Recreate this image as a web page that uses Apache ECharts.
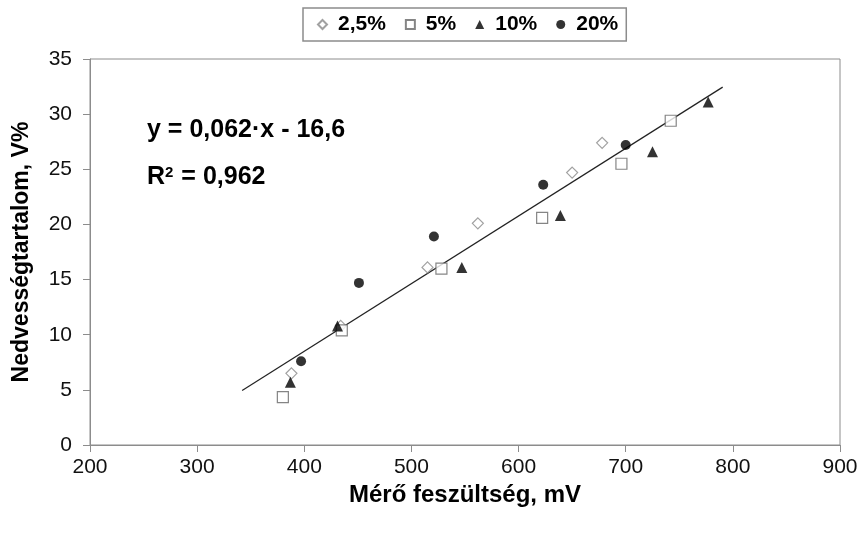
<!DOCTYPE html>
<html>
<head>
<meta charset="utf-8">
<script src="https://cdn.jsdelivr.net/npm/echarts@6/dist/echarts.min.js"></script>
<style>
  html, body { margin: 0; padding: 0; background: #fff; }
  #chart { width: 862px; height: 535px; }
</style>
</head>
<body>
<div id="chart"></div>
<script>
// mért pontok [feszültség mV, nedvesség V%] koncentrációnként
const s25 = [[388, 6.5], [434, 10.8], [515, 16.1], [562, 20.1], [650, 24.7], [678, 27.4]];
const s5 = [[380, 4.35], [435, 10.4], [528, 16.0], [622, 20.6], [696, 25.5], [742, 29.4]];
const s10 = [[387, 5.7], [431, 10.8], [547, 16.1], [639, 20.8], [725, 26.6], [777, 31.1]];
const s20 = [[397, 7.6], [451, 14.7], [521, 18.9], [623, 23.6], [700, 27.2]];
// illesztett egyenes végpontjai
const trend = [[342, 4.95], [790.5, 32.45]];
const seriesNames = ['2,5%', '5%', '10%', '20%'];

const font = 'Liberation Sans, Arial, sans-serif';
const chart = echarts.init(document.getElementById('chart'));

chart.setOption({
  animation: false,
  textStyle: { fontFamily: font },
  grid: {
    left: 90, right: 22, top: 59, bottom: 90,
    show: true, borderColor: '#8c8c8c', borderWidth: 1
  },
  legend: {
    data: seriesNames,
    left: 303, top: 8,
    borderColor: '#8c8c8c', borderWidth: 1.5,
    padding: [6, 8, 6, 14],
    itemGap: 19, itemWidth: 9, itemHeight: 9,
    textStyle: {
      fontSize: 21, fontWeight: 'bold', color: '#000', fontFamily: font,
      padding: [0, 0, 0, 6]
    }
  },
  xAxis: {
    type: 'value', min: 200, max: 900, interval: 100,
    name: 'Mérő feszültség, mV', nameLocation: 'middle', nameGap: 38,
    nameTextStyle: { fontSize: 24, fontWeight: 'bold', color: '#000' },
    axisLine: { show: true, lineStyle: { color: '#8c8c8c' } },
    axisTick: { show: true, length: 7, lineStyle: { color: '#8c8c8c' } },
    axisLabel: { fontSize: 21, color: '#111', margin: 12 },
    splitLine: { show: false }
  },
  yAxis: {
    type: 'value', min: 0, max: 35, interval: 5,
    name: 'Nedvességtartalom, V%', nameLocation: 'middle', nameGap: 57,
    nameTextStyle: { fontSize: 23, fontWeight: 'bold', color: '#000' },
    axisLine: { show: true, lineStyle: { color: '#8c8c8c' } },
    axisTick: { show: true, length: 7, lineStyle: { color: '#8c8c8c' } },
    axisLabel: { fontSize: 21, color: '#111', margin: 18 },
    splitLine: { show: false }
  },
  graphic: [
    {
      type: 'text', left: 147, top: 118,
      style: { text: 'y = 0,062·x - 16,6', font: 'bold 25px ' + font, fill: '#000' }
    },
    {
      type: 'text', left: 147, top: 165,
      style: {
        text: '{b|R}{s|2}{b| = 0,962}',
        rich: {
          b: { font: 'bold 25px ' + font, fill: '#000', verticalAlign: 'bottom' },
          s: { font: 'bold 15px ' + font, fill: '#000', verticalAlign: 'top', padding: [0, 1, 10, 0] }
        }
      }
    }
  ],
  series: [
    {
      name: '2,5%', type: 'scatter', data: s25, symbol: 'diamond', symbolSize: 11,
      itemStyle: { color: '#fff', borderColor: '#8a8a8a', borderWidth: 1.2 }, z: 3
    },
    {
      name: '5%', type: 'scatter', data: s5, symbol: 'rect', symbolSize: 11,
      itemStyle: { color: '#fff', borderColor: '#666', borderWidth: 1.2 }, z: 3
    },
    {
      name: '10%', type: 'scatter', data: s10, symbol: 'triangle', symbolSize: 11,
      itemStyle: { color: '#000' }, z: 4
    },
    {
      name: '20%', type: 'scatter', data: s20, symbol: 'circle', symbolSize: 10,
      itemStyle: { color: '#000' }, z: 4
    },
    {
      name: 'trend', type: 'line', data: trend, showSymbol: false, symbol: 'none',
      lineStyle: { color: '#222', width: 1.2 }, z: 2, silent: true
    }
  ]
});
</script>
</body>
</html>
